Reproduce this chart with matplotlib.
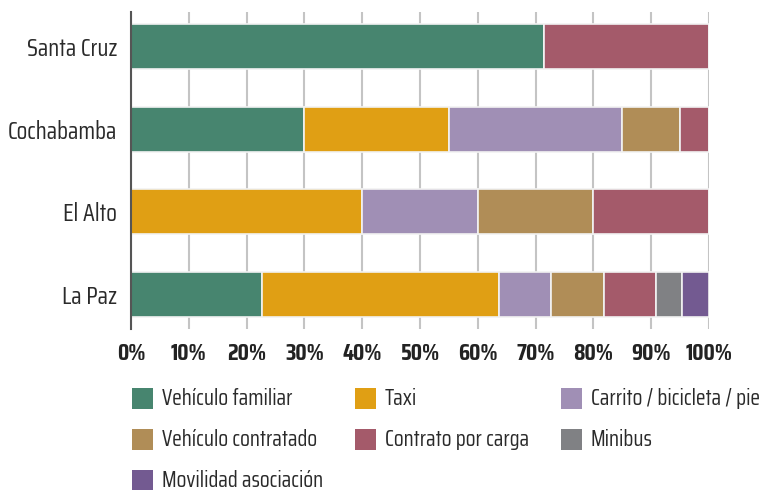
import matplotlib
matplotlib.use("Agg")
import matplotlib.pyplot as plt
from matplotlib import font_manager
from matplotlib.patches import Rectangle

names = {f.name for f in font_manager.fontManager.ttflist}
fam = "DejaVu Sans"
for cand in ["Saira Condensed", "Barlow Condensed", "Asap Condensed", "Archivo Narrow"]:
    if cand in names:
        fam = cand
        break
plt.rcParams['font.family'] = [fam, 'DejaVu Sans']

cities = ["Santa Cruz", "Cochabamba", "El Alto", "La Paz"]
series = ["Vehículo familiar", "Taxi", "Carrito / bicicleta / pie",
          "Vehículo contratado", "Contrato por carga", "Minibus", "Movilidad asociación"]
values = {
    "Vehículo familiar":        [71.4, 30.0, 0.0, 22.7],
    "Taxi":                     [0.0, 25.0, 40.0, 40.9],
    "Carrito / bicicleta / pie":[0.0, 30.0, 20.0, 9.1],
    "Vehículo contratado":      [0.0, 10.0, 20.0, 9.1],
    "Contrato por carga":       [28.6, 5.0, 20.0, 9.1],
    "Minibus":                  [0.0, 0.0, 0.0, 4.5],
    "Movilidad asociación":     [0.0, 0.0, 0.0, 4.6],
}
colors = ["#47856f", "#e09f14", "#a08fb5", "#b08d57", "#a45a6a", "#808184", "#735a91"]
xticks = [0, 10, 20, 30, 40, 50, 60, 70, 80, 90, 100]

fig = plt.figure(figsize=(7.73, 4.9), dpi=100)
ax = fig.add_axes([131/773, 1-329/490, 578/773, 317/490])

ypos = list(range(len(cities)))
left = [0.0]*len(cities)
for s, c in zip(series, colors):
    v = values[s]
    ax.barh(ypos, v, left=left, height=0.55, color=c, edgecolor="#f2f2f2", linewidth=1.2, zorder=3)
    left = [a+b for a, b in zip(left, v)]

ax.set_xlim(0, 100)
ax.set_ylim(3.42, -0.42)
ax.set_yticks(ypos)
ax.set_yticklabels(cities, fontsize=17.5, color="#2a2a2a")
ax.set_xticks(xticks)
ax.set_xticklabels([f"{t}%" for t in xticks], fontsize=17, fontweight="bold", color="#222222")
ax.tick_params(axis="y", length=0, pad=10)
ax.tick_params(axis="x", length=0, pad=10)
ax.xaxis.grid(True, color="#c4c4c4", linewidth=1.5, zorder=0)
for sp in ["top", "right", "bottom"]:
    ax.spines[sp].set_visible(False)
ax.spines["left"].set_color("#555555")
ax.spines["left"].set_linewidth(1.5)
ax.spines["left"].set_zorder(4)

# legend (manual layout, 3 columns)
col_x = [132, 355, 561]
row_y = [398.5, 439.5, 480.5]
for i, (s, c) in enumerate(zip(series, colors)):
    r, k = divmod(i, 3)
    x, y = col_x[k], row_y[r]
    fig.add_artist(Rectangle((x/773, 1-(y+10.5)/490), 21/773, 21/490, transform=fig.transFigure,
                             facecolor=c, edgecolor="none"))
    fig.text((x+30)/773, 1-y/490, s, fontsize=16, color="#2a2a2a", va="center", ha="left")

fig.savefig("out.png", dpi=100)
